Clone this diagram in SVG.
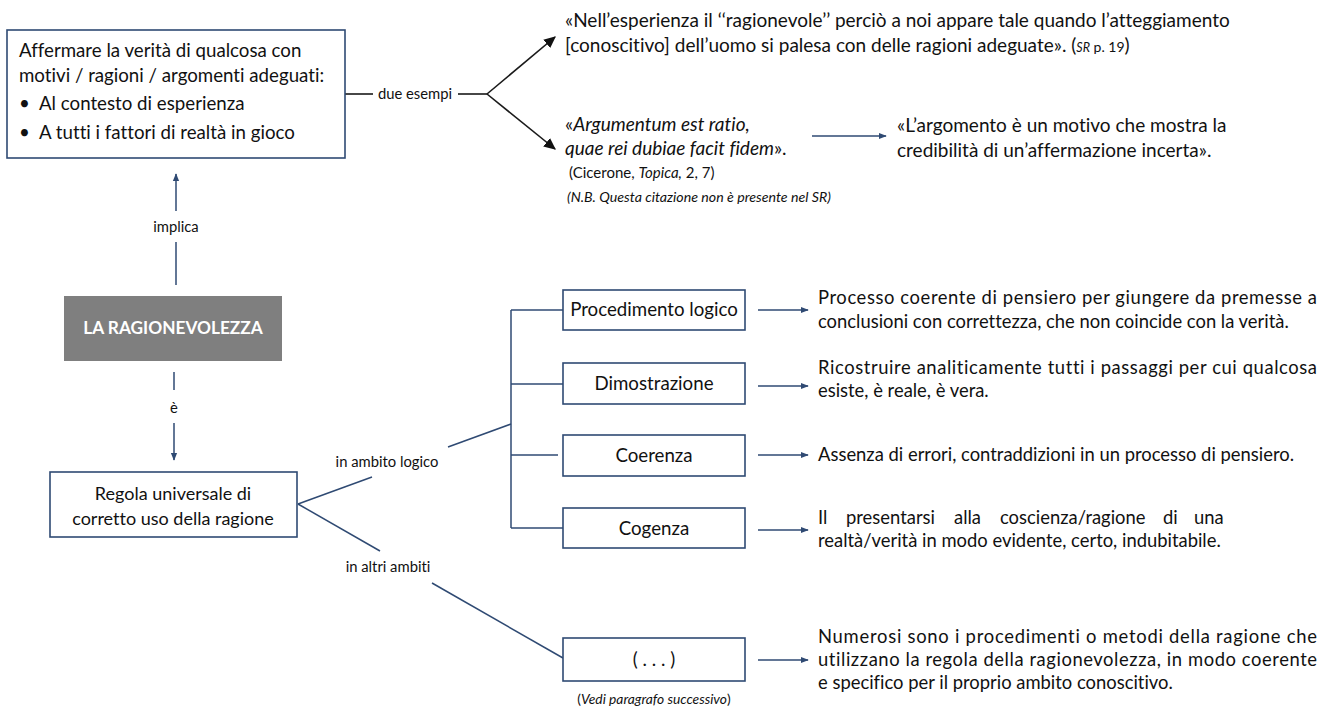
<svg xmlns="http://www.w3.org/2000/svg" width="1331" height="709" viewBox="0 0 1331 709">
<defs>
<style>
text{font-family:"Lato","Liberation Sans",sans-serif;fill:#111;font-variant-ligatures:no-common-ligatures;}
.m{font-size:18.4px;}
.q{font-size:19px;}
.b{font-size:18.7px;}
.s{font-size:14.2px;}
.l{font-size:14.8px;}
.c{text-anchor:middle;}
.i{font-style:italic;}
.box{fill:#fff;stroke:#2F4A73;stroke-width:1.6;}
.nv{fill:none;stroke:#2F4A73;stroke-width:1.5;}
.bk{fill:none;stroke:#1a1a1a;stroke-width:1.6;}
</style>
<marker id="an" viewBox="0 0 10 10" refX="9" refY="5" markerWidth="8" markerHeight="8" markerUnits="userSpaceOnUse" orient="auto"><path d="M0,1 L10,5 L0,9 z" fill="#2F4A73"/></marker>
<marker id="ab" viewBox="0 0 10 10" refX="9" refY="5" markerWidth="12" markerHeight="12" markerUnits="userSpaceOnUse" orient="auto"><path d="M0,0.5 L10,5 L0,9.5 z" fill="#111"/></marker>
</defs>
<rect width="1331" height="709" fill="#fff"/>

<g id="connectors">
<line class="bk" x1="345" y1="94" x2="373" y2="94"/>
<line class="bk" x1="458" y1="94" x2="487" y2="94"/>
<line class="bk" x1="487" y1="94" x2="555" y2="37" marker-end="url(#ab)"/>
<line class="bk" x1="487" y1="94" x2="555" y2="149" marker-end="url(#ab)"/>
<line class="nv" x1="812" y1="136" x2="886" y2="136" marker-end="url(#an)"/>
<line class="nv" x1="176" y1="211" x2="176" y2="174" marker-end="url(#an)"/>
<line class="nv" x1="176" y1="242" x2="176" y2="285"/>
<line class="nv" x1="174" y1="372" x2="174" y2="390"/>
<line class="nv" x1="174" y1="423" x2="174" y2="460" marker-end="url(#an)"/>
<line class="nv" x1="298" y1="504" x2="372" y2="477"/>
<line class="nv" x1="448" y1="447" x2="511" y2="424"/>
<line class="nv" x1="511" y1="310" x2="511" y2="528"/>
<line class="nv" x1="511" y1="310" x2="563" y2="310"/>
<line class="nv" x1="511" y1="384" x2="563" y2="384"/>
<line class="nv" x1="511" y1="455" x2="558" y2="455"/>
<line class="nv" x1="511" y1="528" x2="563" y2="528"/>
<line class="nv" x1="298" y1="504" x2="380" y2="551"/>
<line class="nv" x1="432" y1="583" x2="563" y2="658"/>
<line class="nv" x1="758" y1="310" x2="808" y2="310" marker-end="url(#an)"/>
<line class="nv" x1="758" y1="386" x2="808" y2="386" marker-end="url(#an)"/>
<line class="nv" x1="758" y1="455" x2="808" y2="455" marker-end="url(#an)"/>
<line class="nv" x1="758" y1="530" x2="808" y2="530" marker-end="url(#an)"/>
<line class="nv" x1="758" y1="660" x2="808" y2="660" marker-end="url(#an)"/>
<text class="l c" x="415" y="99">due esempi</text>
<text class="l c" x="176" y="232">implica</text>
<text class="l c" x="174" y="413">è</text>
<text class="l c" x="387" y="467">in ambito logico</text>
<text class="l c" x="388" y="572">in altri ambiti</text>
</g>

<g id="n-affermare">
<rect class="box" x="7" y="30" width="338" height="128"/>
<text class="b" x="19" y="57">Affermare la verità di qualcosa con</text>
<text class="b" x="19" y="82">motivi / ragioni / argomenti adeguati:</text>
<text class="b" x="19" y="110">•</text>
<text class="b" x="39" y="110">Al contesto di esperienza</text>
<text class="b" x="19" y="139">•</text>
<text class="b" x="39" y="139">A tutti i fattori di realtà in gioco</text>
</g>

<g id="n-quote-sr">
<text class="q" x="565" y="27">«Nell’esperienza il ‘‘ragionevole’’ perciò a noi appare tale quando l’atteggiamento</text>
<text class="q" x="565" y="52">[conoscitivo] dell’uomo si palesa con delle ragioni adeguate». (<tspan class="i" font-size="12.5px">SR</tspan><tspan font-size="14px"> p. 19</tspan>)</text>
</g>

<g id="n-argumentum">
<text class="q" x="565" y="131">«<tspan class="i">Argumentum est ratio,</tspan></text>
<text class="q" x="565" y="155"><tspan class="i">quae rei dubiae facit fidem</tspan>».</text>
<text x="569" y="178" style="font-size:15px">(Cicerone, <tspan class="i">Topica,</tspan> 2, 7)</text>
<text class="s i" x="567" y="202">(N.B. Questa citazione non è presente nel SR)</text>
</g>

<g id="n-argomento">
<text class="q" x="897" y="132">«L’argomento è un motivo che mostra la</text>
<text class="q" x="897" y="157">credibilità di un’affermazione incerta».</text>
</g>

<g id="n-ragionevolezza">
<rect x="64" y="296" width="218" height="65" fill="#7F7F7F"/>
<text x="173" y="334" class="c" style="fill:#fff;font-weight:bold;font-size:17.3px">LA RAGIONEVOLEZZA</text>
</g>

<g id="n-regola">
<rect class="box" x="50" y="472" width="247" height="65"/>
<text class="c" x="173" y="500" style="font-size:18px">Regola universale di</text>
<text class="c" x="173" y="525" style="font-size:18px">corretto uso della ragione</text>
</g>

<g id="n-procedimento">
<rect class="box" x="563" y="290" width="182" height="40"/>
<text class="b c" x="654" y="316">Procedimento logico</text>
</g>
<g id="n-dimostrazione">
<rect class="box" x="563" y="363" width="182" height="41"/>
<text class="b c" x="654" y="390">Dimostrazione</text>
</g>
<g id="n-coerenza">
<rect class="box" x="563" y="435" width="182" height="41"/>
<text class="b c" x="654" y="462">Coerenza</text>
</g>
<g id="n-cogenza">
<rect class="box" x="563" y="508" width="182" height="40"/>
<text class="b c" x="654" y="535">Cogenza</text>
</g>
<g id="n-altri">
<rect class="box" x="563" y="638" width="182" height="43"/>
<text class="b c" x="654" y="666">( . . . )</text>
<text class="c" x="654" y="704" style="font-size:13.8px">(<tspan class="i">Vedi paragrafo successivo</tspan>)</text>
</g>

<g id="t-procedimento">
<text class="m" x="818" y="304" textLength="499" lengthAdjust="spacing">Processo coerente di pensiero per giungere da premesse a</text>
<text class="m" x="818" y="328">conclusioni con correttezza, che non coincide con la verità.</text>
</g>
<g id="t-dimostrazione">
<text class="m" x="818" y="374" textLength="499" lengthAdjust="spacing">Ricostruire analiticamente tutti i passaggi per cui qualcosa</text>
<text class="m" x="818" y="397">esiste, è reale, è vera.</text>
</g>
<g id="t-coerenza">
<text class="m" x="818" y="461">Assenza di errori, contraddizioni in un processo di pensiero.</text>
</g>
<g id="t-cogenza">
<text class="m" y="524"><tspan x="818">Il</tspan><tspan x="846">presentarsi</tspan><tspan x="954">alla</tspan><tspan x="1000">coscienza/ragione</tspan><tspan x="1163">di</tspan><tspan x="1194">una</tspan></text>
<text class="m" x="818" y="547">realtà/verità in modo evidente, certo, indubitabile.</text>
</g>
<g id="t-altri">
<text class="m" x="818" y="643" textLength="499" lengthAdjust="spacing">Numerosi sono i procedimenti o metodi della ragione che</text>
<text class="m" x="818" y="666" textLength="499" lengthAdjust="spacing">utilizzano la regola della ragionevolezza, in modo coerente</text>
<text class="m" x="818" y="689">e specifico per il proprio ambito conoscitivo.</text>
</g>
</svg>
